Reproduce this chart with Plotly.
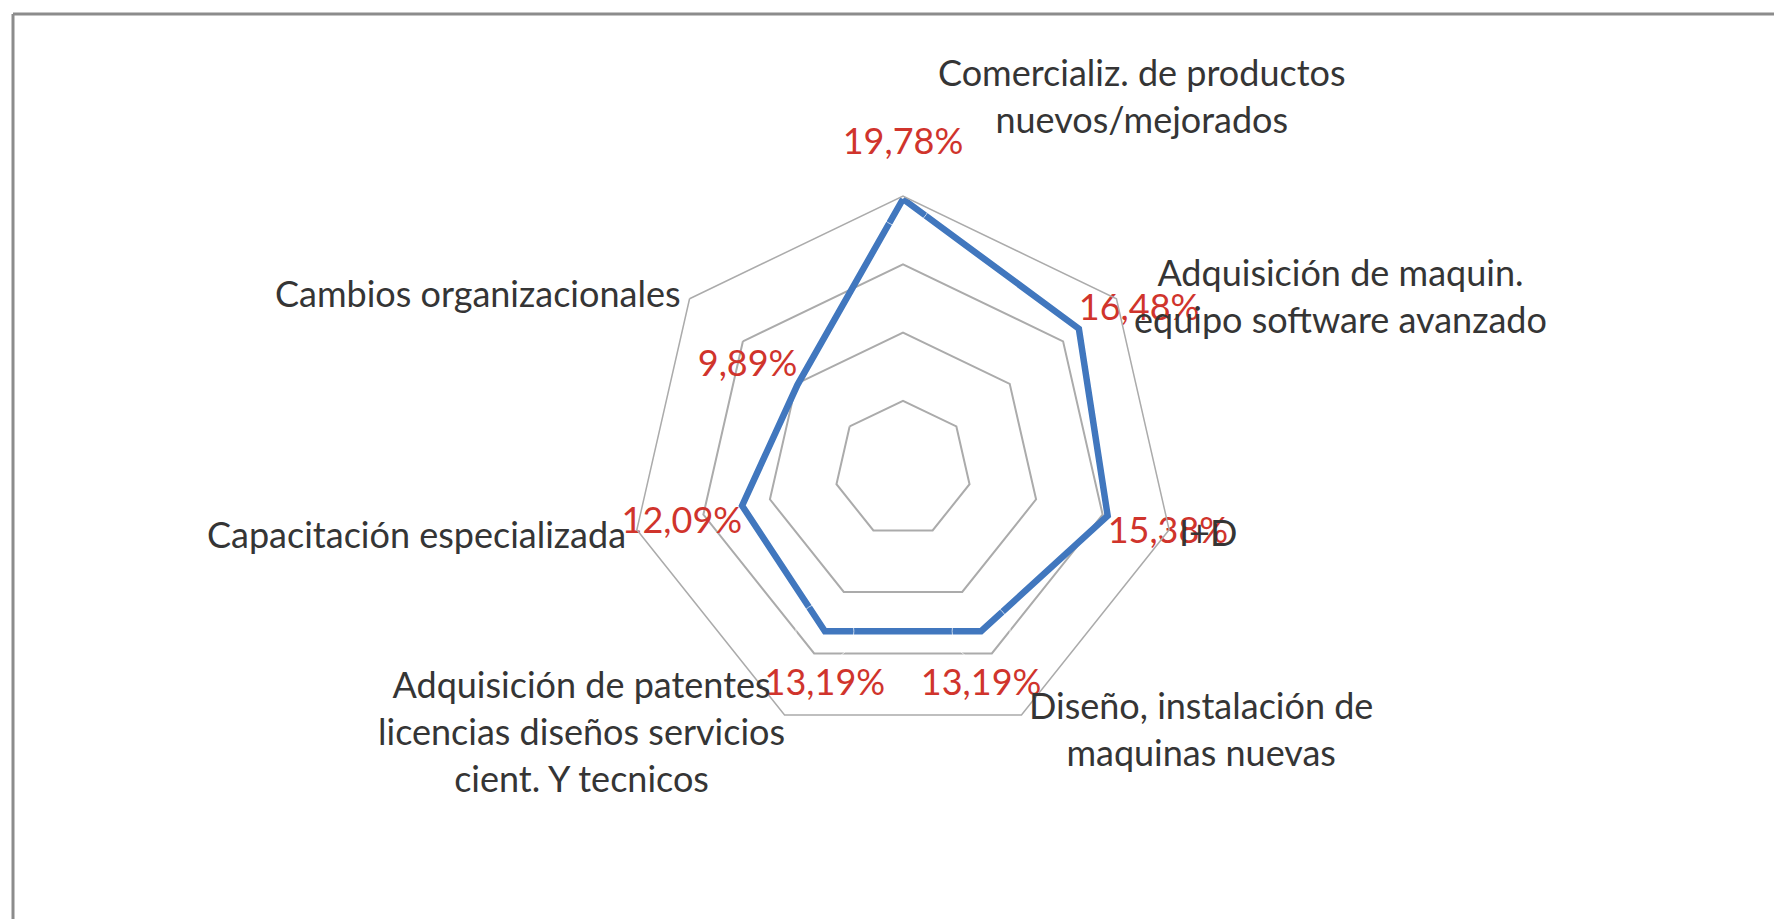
import plotly.graph_objects as go

# ---- data ----
categories = [
    "Comercializ. de productos<br>nuevos/mejorados",
    "Adquisición de maquin.<br>equipo software avanzado",
    "I+D",
    "Diseño, instalación de<br>maquinas nuevas",
    "Adquisición de patentes<br>licencias diseños servicios<br>cient. Y tecnicos",
    "Capacitación especializada",
    "Cambios organizacionales",
]
values = [19.78, 16.48, 15.38, 13.19, 13.19, 12.09, 9.89]
value_labels = ["19,78%", "16,48%", "15,38%", "13,19%", "13,19%", "12,09%", "9,89%"]
radial_ticks = [0, 5, 10, 15, 20]

# ---- style / layout helpers ----
W, H = 1782, 919
OFF = 8  # page body margin
label_pos_px = [(1142, 95), (1340, 295), (1208, 532), (1201, 728),
                (581, 731), (416, 534), (477, 293)]
text_positions = ["top center", "top right", "bottom right", "bottom center",
                  "bottom center", "bottom left", "top left"]
text_pad_sizes = [56, 0, 0, 58, 58, 0, 0]

cx, cy, R = 903 - OFF, 469 - OFF, 273
dom_x = [(cx - R) / W, (cx + R) / W]
dom_y = [(H - cy - R) / H, (H - cy + R) / H]

FONT = "Lato"
FSIZE = 36
GRID = "#ABABAB"
BLUE = "#4177BE"
RED = "#D0342C"
TXT = "#353535"

fig = go.Figure()
fig.add_trace(go.Scatterpolar(
    r=values + values[:1],
    theta=categories + categories[:1],
    mode="lines",
    line=dict(color=BLUE, width=6.5),
    hoverinfo="skip",
    showlegend=False,
))
fig.add_trace(go.Scatterpolar(
    r=values,
    theta=categories,
    mode="markers+text",
    marker=dict(size=text_pad_sizes, color="rgba(0,0,0,0)"),
    text=value_labels,
    textposition=text_positions,
    textfont=dict(family=FONT, size=FSIZE, color=RED),
    showlegend=False,
))

fig.update_layout(
    width=W, height=H,
    margin=dict(l=0, r=0, t=0, b=0),
    paper_bgcolor="white",
    plot_bgcolor="white",
    showlegend=False,
    polar=dict(
        domain=dict(x=dom_x, y=dom_y),
        bgcolor="rgba(0,0,0,0)",
        gridshape="linear",
        radialaxis=dict(range=[0, 20], tickvals=radial_ticks, showticklabels=False,
                        showline=False, ticks="", gridcolor=GRID, gridwidth=1.5),
        angularaxis=dict(rotation=90, direction="clockwise", showticklabels=False,
                         ticks="", showgrid=False, showline=True,
                         linecolor=GRID, linewidth=1.5),
    ),
)

for cat, (px, py) in zip(categories, label_pos_px):
    fig.add_annotation(
        x=(px - OFF) / W, y=1 - (py - OFF) / H, xref="paper", yref="paper",
        text=cat, showarrow=False, xanchor="center", yanchor="middle",
        align="center", font=dict(family=FONT, size=FSIZE, color=TXT),
    )

# chart frame (left and top edges visible)
fx, fy = 13 - OFF, 14 - OFF
fig.add_shape(type="line", xref="paper", yref="paper",
              x0=fx / W, x1=fx / W, y0=0, y1=1 - fy / H,
              line=dict(color="#8C8C8C", width=3))
fig.add_shape(type="line", xref="paper", yref="paper",
              x0=fx / W, x1=1, y0=1 - fy / H, y1=1 - fy / H,
              line=dict(color="#8C8C8C", width=3))

fig.write_html("out.html")
